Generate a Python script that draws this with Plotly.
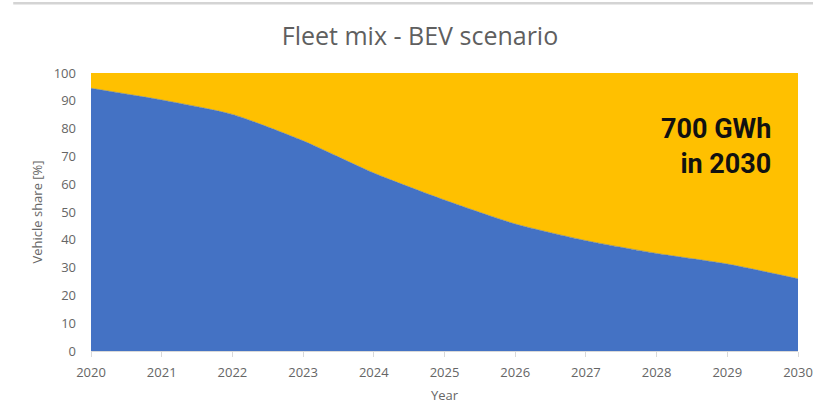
import plotly.graph_objects as go

# Fleet composition, share of vehicles in percent
years = [2020, 2021, 2022, 2023, 2024, 2025, 2026, 2027, 2028, 2029, 2030]
ice_share = [94.5, 90.3, 85.1, 75.6, 64.0, 54.3, 45.7, 39.7, 35.1, 31.3, 26.0]
bev_share = [5.5, 9.7, 14.9, 24.4, 36.0, 45.7, 54.3, 60.3, 64.9, 68.7, 74.0]

year_ticks = years
share_ticks = list(range(0, 101, 10))

BLUE = "#4472C4"
GOLD = "#FFC000"
GREY_TEXT = "#666666"
GREY_LINE = "#D9D9D9"

fig = go.Figure()
fig.add_trace(go.Scatter(
    x=years, y=ice_share, name="ICEV", stackgroup="fleet",
    mode="lines", line=dict(color=BLUE, width=0.5, shape="spline", smoothing=0.6),
    fillcolor=BLUE, showlegend=False,
))
fig.add_trace(go.Scatter(
    x=years, y=bev_share, name="BEV", stackgroup="fleet",
    mode="lines", line=dict(color=GOLD, width=0.5, shape="spline", smoothing=0.6),
    fillcolor=GOLD, showlegend=False,
))

fig.update_layout(
    width=813, height=404,
    margin=dict(l=91, r=15, t=73, b=53, autoexpand=False),
    paper_bgcolor="white", plot_bgcolor="white",
    font=dict(family="Open Sans", color=GREY_TEXT, size=13),
    title=dict(
        text="Fleet mix - BEV scenario",
        font=dict(family="Open Sans", size=25, color="#5f5f5f"),
        x=420 / 813, xanchor="center", xref="container",
        y=1 - 36 / 404, yref="container", yanchor="middle",
    ),
    xaxis=dict(
        range=[2020, 2030], tickvals=year_ticks, ticktext=[str(y) for y in year_ticks],
        ticks="outside", ticklen=5, tickcolor=GREY_LINE, tickwidth=1,
        showline=True, linecolor=GREY_LINE, linewidth=1,
        showgrid=False, zeroline=False, automargin=False,
        ticklabelstandoff=4,
        tickfont=dict(size=13, color=GREY_TEXT),
        title=dict(text="Year", font=dict(size=13, color=GREY_TEXT), standoff=12),
    ),
    yaxis=dict(
        range=[0, 100], tickvals=share_ticks,
        showline=False, showgrid=False, zeroline=False, automargin=False,
        ticks="", ticklabelstandoff=14,
        tickfont=dict(size=13, color=GREY_TEXT),
        title=dict(text="Vehicle share [%]", font=dict(size=13, color=GREY_TEXT), standoff=8),
    ),
    annotations=[dict(
        text="<b>700 GWh</b><br><b>in 2030</b>",
        xref="paper", yref="paper", x=0.9646, y=0.737,
        xanchor="right", yanchor="middle", align="right", showarrow=False,
        font=dict(family="Roboto", size=27, color="#111111"),
    )],
    shapes=[dict(
        type="line", xref="paper", yref="paper",
        x0=-0.11, x1=1.03, y0=1.251, y1=1.251,
        line=dict(color="#D4D4D4", width=2.5),
    )],
)

fig.write_html("out.html")
